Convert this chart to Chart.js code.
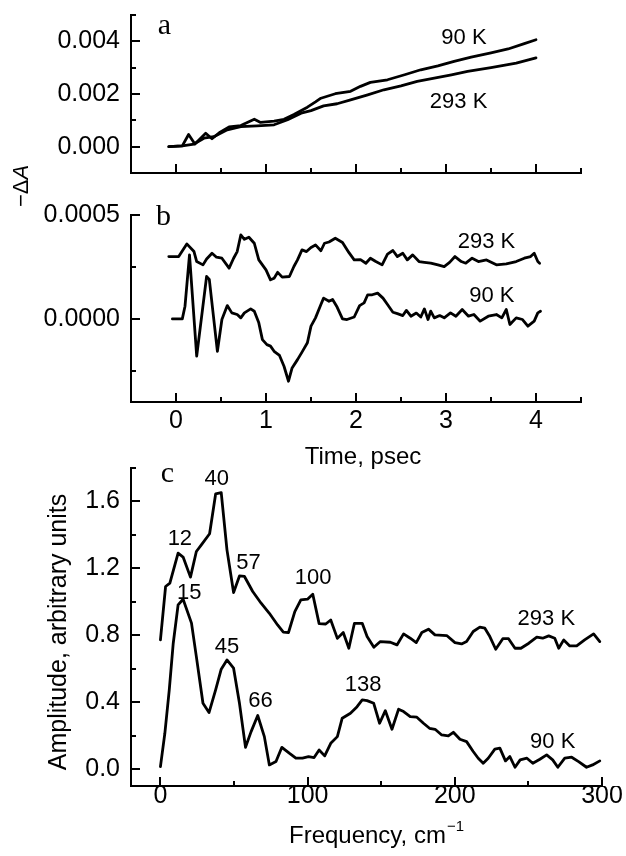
<!DOCTYPE html>
<html><head><meta charset="utf-8">
<script src="https://cdn.jsdelivr.net/npm/chart.js@4.4.0/dist/chart.umd.min.js"></script>
<style>
html,body{margin:0;padding:0;background:#fff;}
#wrap{position:relative;width:626px;height:856px;overflow:hidden;background:#fff;}
#wrap canvas{position:absolute;left:0;top:0;}
</style></head><body>
<div id="wrap">
<canvas id="ca" width="626" height="856"></canvas>
<canvas id="cb" width="626" height="856"></canvas>
<canvas id="cc" width="626" height="856"></canvas>
</div>
<script>
// ---------- Panel a: -dA vs time (psec) ----------
const timeA90 = [-0.08, 0.07, 0.14, 0.21, 0.33, 0.40, 0.49, 0.59, 0.72, 0.87, 0.94, 1.09, 1.20, 1.31, 1.46, 1.55, 1.61, 1.77, 1.94, 2.05, 2.16, 2.35, 2.54, 2.72, 2.91, 3.09, 3.28, 3.50, 3.69, 3.87, 4.00];
const dA90 = [0, 0.03e-3, 0.46e-3, 0.10e-3, 0.51e-3, 0.30e-3, 0.55e-3, 0.75e-3, 0.80e-3, 1.04e-3, 0.92e-3, 0.97e-3, 1.04e-3, 1.22e-3, 1.50e-3, 1.70e-3, 1.84e-3, 2.01e-3, 2.10e-3, 2.29e-3, 2.44e-3, 2.54e-3, 2.73e-3, 2.92e-3, 3.07e-3, 3.24e-3, 3.40e-3, 3.56e-3, 3.71e-3, 3.91e-3, 4.06e-3];
const timeA293 = [-0.08, 0.07, 0.20, 0.31, 0.42, 0.57, 0.72, 0.90, 1.09, 1.24, 1.39, 1.50, 1.64, 1.79, 1.94, 2.13, 2.31, 2.50, 2.68, 2.87, 3.06, 3.24, 3.50, 3.78, 4.00];
const dA293 = [0, 0.03e-3, 0.10e-3, 0.32e-3, 0.38e-3, 0.64e-3, 0.76e-3, 0.79e-3, 0.83e-3, 1.02e-3, 1.27e-3, 1.37e-3, 1.55e-3, 1.63e-3, 1.78e-3, 1.97e-3, 2.16e-3, 2.31e-3, 2.48e-3, 2.60e-3, 2.73e-3, 2.86e-3, 3.00e-3, 3.17e-3, 3.37e-3];

// ---------- Panel b: oscillatory part ----------
const timeB293 = [-0.08, 0.03, 0.12, 0.20, 0.23, 0.30, 0.34, 0.40, 0.45, 0.51, 0.59, 0.64, 0.68, 0.72, 0.76, 0.81, 0.87, 0.92, 1.00, 1.05, 1.09, 1.13, 1.18, 1.26, 1.31, 1.35, 1.40, 1.45, 1.50, 1.55, 1.61, 1.65, 1.70, 1.77, 1.85, 1.92, 1.98, 2.05, 2.11, 2.16, 2.22, 2.29, 2.35, 2.41, 2.46, 2.52, 2.57, 2.63, 2.70, 2.76, 2.83, 2.91, 2.98, 3.04, 3.10, 3.17, 3.22, 3.29, 3.36, 3.45, 3.56, 3.67, 3.78, 3.87, 3.94, 3.98, 4.02, 4.04];
const dB293 = [3.00e-4, 3.00e-4, 3.61e-4, 3.24e-4, 2.76e-4, 2.60e-4, 2.88e-4, 3.16e-4, 2.97e-4, 2.92e-4, 2.44e-4, 2.92e-4, 3.24e-4, 4.04e-4, 3.83e-4, 3.93e-4, 3.64e-4, 2.84e-4, 2.36e-4, 1.88e-4, 1.96e-4, 2.24e-4, 2.01e-4, 2.04e-4, 2.52e-4, 2.84e-4, 3.32e-4, 3.24e-4, 3.44e-4, 3.56e-4, 3.28e-4, 3.64e-4, 3.70e-4, 3.88e-4, 3.68e-4, 3.20e-4, 2.84e-4, 2.85e-4, 2.68e-4, 2.92e-4, 2.76e-4, 2.60e-4, 3.12e-4, 3.29e-4, 3.00e-4, 3.16e-4, 2.84e-4, 3.08e-4, 2.76e-4, 2.72e-4, 2.68e-4, 2.60e-4, 2.52e-4, 2.72e-4, 3.00e-4, 2.76e-4, 2.68e-4, 2.92e-4, 2.76e-4, 2.84e-4, 2.60e-4, 2.65e-4, 2.76e-4, 2.92e-4, 3.00e-4, 3.16e-4, 2.76e-4, 2.68e-4];
const timeB90 = [-0.04, 0.07, 0.10, 0.15, 0.23, 0.34, 0.37, 0.46, 0.51, 0.57, 0.62, 0.68, 0.72, 0.76, 0.83, 0.87, 0.92, 0.96, 1.01, 1.05, 1.09, 1.15, 1.20, 1.25, 1.29, 1.35, 1.40, 1.46, 1.50, 1.55, 1.61, 1.64, 1.70, 1.74, 1.79, 1.85, 1.90, 1.98, 2.04, 2.09, 2.13, 2.18, 2.24, 2.30, 2.35, 2.41, 2.46, 2.52, 2.56, 2.61, 2.67, 2.72, 2.76, 2.80, 2.83, 2.87, 2.93, 2.98, 3.05, 3.11, 3.18, 3.25, 3.31, 3.38, 3.47, 3.56, 3.62, 3.67, 3.71, 3.78, 3.85, 3.91, 3.98, 4.02, 4.05];
const dB90 = [0, 0, 0.61e-4, 3.08e-4, -1.79e-4, 2.04e-4, 1.90e-4, -1.56e-4, -0.03e-4, 0.64e-4, 0.29e-4, 0.21e-4, 0.05e-4, 0.29e-4, 0.48e-4, 0.37e-4, -0.19e-4, -1.00e-4, -1.24e-4, -1.31e-4, -1.56e-4, -1.76e-4, -2.28e-4, -3.00e-4, -2.36e-4, -1.96e-4, -1.60e-4, -1.15e-4, -0.35e-4, 0.05e-4, 0.69e-4, 1.00e-4, 0.85e-4, 0.93e-4, 0.57e-4, 0.00, -0.03e-4, 0.09e-4, 0.64e-4, 0.77e-4, 1.16e-4, 1.16e-4, 1.24e-4, 1.00e-4, 0.69e-4, 0.32e-4, 0.25e-4, 0.16e-4, 0.41e-4, 0.13e-4, 0.28e-4, 0.09e-4, 0.48e-4, -0.03e-4, 0.37e-4, 0.05e-4, 0.16e-4, 0.05e-4, 0.29e-4, 0.13e-4, 0.45e-4, 0.13e-4, 0.21e-4, -0.11e-4, 0.13e-4, 0.21e-4, 0.05e-4, 0.45e-4, -0.27e-4, 0.05e-4, -0.03e-4, -0.35e-4, -0.11e-4, 0.29e-4, 0.37e-4];

// ---------- Panel c: Fourier amplitude vs frequency (cm-1) ----------
const freqC293 = [0, 3.5, 6.4, 12, 15.4, 20.4, 24.4, 27.8, 33.4, 37.5, 41.3, 45.2, 49.7, 53.7, 57.1, 62.7, 68.4, 74, 79.6, 83.5, 87, 91.3, 95.4, 99.9, 103.5, 107.8, 112.3, 115.7, 120.2, 124.2, 128.0, 131.8, 137.1, 140.4, 145.0, 149.4, 156.2, 160.7, 165.2, 169.7, 173.8, 177.6, 182.1, 186.5, 194.5, 200.1, 204.6, 208.0, 212.5, 217.0, 220.4, 223.8, 227.8, 232.6, 236.5, 240.9, 244.9, 250.3, 255.7, 259.7, 263.8, 267.9, 270.6, 274.0, 278.1, 282.8, 288.2, 294.3, 298.5];
const ampC293 = [0.773, 1.092, 1.112, 1.291, 1.268, 1.148, 1.301, 1.341, 1.407, 1.645, 1.653, 1.311, 1.056, 1.155, 1.152, 1.062, 0.992, 0.932, 0.862, 0.819, 0.817, 0.942, 1.012, 1.016, 1.046, 0.870, 0.868, 0.892, 0.782, 0.817, 0.723, 0.872, 0.872, 0.793, 0.729, 0.763, 0.759, 0.743, 0.809, 0.783, 0.757, 0.817, 0.837, 0.803, 0.799, 0.757, 0.749, 0.763, 0.823, 0.849, 0.843, 0.793, 0.717, 0.780, 0.780, 0.723, 0.723, 0.753, 0.789, 0.783, 0.797, 0.783, 0.723, 0.773, 0.737, 0.737, 0.773, 0.809, 0.763];
const freqC90 = [0, 3, 6, 8.7, 12.0, 15.4, 21.1, 24.4, 28.9, 33.0, 37.5, 41.3, 45.2, 49.7, 53.7, 57.8, 61.6, 66.1, 70.6, 74.0, 78.5, 82.5, 87.5, 92.0, 96.5, 100.6, 104.4, 107.8, 111.6, 115.7, 120.2, 123.5, 129.1, 133.6, 137.1, 140.4, 144.9, 148.9, 152.8, 157.3, 161.8, 165.2, 169.7, 174.2, 178.7, 182.8, 186.6, 191.1, 195.6, 199.0, 203.5, 208.0, 212.5, 215.9, 219.3, 222.7, 227.2, 230.6, 234.4, 237.4, 240.9, 244.4, 249.0, 253.0, 257.8, 262.4, 266.5, 270.0, 274.7, 279.4, 284.1, 289.5, 293.6, 298.5];
const ampC90 = [0.016, 0.215, 0.474, 0.753, 0.982, 1.016, 0.873, 0.673, 0.394, 0.339, 0.474, 0.598, 0.653, 0.604, 0.394, 0.131, 0.225, 0.321, 0.195, 0.026, 0.046, 0.131, 0.096, 0.066, 0.066, 0.076, 0.070, 0.115, 0.080, 0.155, 0.195, 0.305, 0.335, 0.374, 0.414, 0.410, 0.394, 0.275, 0.350, 0.239, 0.359, 0.345, 0.315, 0.311, 0.275, 0.245, 0.239, 0.205, 0.199, 0.221, 0.179, 0.165, 0.106, 0.066, 0.036, 0.066, 0.120, 0.126, 0.050, 0.076, 0.012, 0.056, 0.066, 0.036, 0.060, 0.086, 0.056, 0.012, 0.066, 0.072, 0.046, 0.012, 0.026, 0.050];

// ---------- Tick values ----------
const timeTicks = [0, 1, 2, 3, 4];
const timeMinor = [0.5, 1.5, 2.5, 3.5, 4.5];
const aTicks = [0, 0.002, 0.004];
const aMinor = [0.001, 0.003, 0.005];
const bTicks = [0, 0.0005];
const bMinor = [-0.00025, 0.00025];
const freqTicks = [0, 100, 200, 300];
const freqMinor = [50, 150, 250];
const cTicks = [0, 0.4, 0.8, 1.2, 1.6];
const cMinor = [0.2, 0.6, 1.0, 1.4, 1.8];

// ---------- Annotations (data coordinates) ----------
const notesA = [['90 K', 3.20, 4.13e-3], ['293 K', 3.14, 1.68e-3]];
const notesB = [['293 K', 3.45, 3.72e-4], ['90 K', 3.51, 1.12e-4]];
const notesC = [['40', 38.2, 1.733], ['12', 13.2, 1.375], ['57', 59.8, 1.235], ['100', 103.7, 1.143], ['15', 19.5, 1.056], ['45', 45.2, 0.733], ['66', 67.9, 0.408], ['138', 137.7, 0.504], ['293 K', 262.2, 0.898], ['90 K', 266.5, 0.161]];
const letterA = ['a', -0.13, 4.26e-3];
const letterB = ['b', -0.14, 4.52e-4];
const letterC = ['c', 4.8, 1.719];

const SANS = "'Liberation Sans', Arial, Helvetica, sans-serif";
const SERIF = "'Liberation Serif', 'Times New Roman', serif";
const W = 626, H = 856;

function pts(xs, ys) { return xs.map((x, i) => ({x: x, y: ys[i]})); }

function ds(data) {
  return {data: data, borderColor: '#000', borderWidth: 2.8, pointRadius: 0, pointHoverRadius: 0,
          fill: false, tension: 0, borderJoinStyle: 'round', borderCapStyle: 'round'};
}

function axis(isX, min, max, labels, fmt, show, pad, size) {
  return {
    type: 'linear', min: min, max: max, position: isX ? 'bottom' : 'left',
    afterFit: s => {
      if (isX) s.height = size; else s.width = size;
      s.paddingTop = 0; s.paddingBottom = 0; s.paddingLeft = 0; s.paddingRight = 0;
    },
    afterBuildTicks: s => { s.ticks = labels.map(v => ({value: v})); },
    grid: {display: false, drawTicks: false},
    border: {display: true, color: '#000', width: 2},
    ticks: {display: show, color: '#000', padding: pad, autoSkip: false, maxRotation: 0, minRotation: 0,
            font: {family: SANS, size: 25, lineHeight: 1}, callback: v => fmt(v)}
  };
}

function decorPlugin(cfg) {
  return {
    id: 'decor',
    afterDraw(chart) {
      const ctx = chart.ctx, xs = chart.scales.x, ys = chart.scales.y, area = chart.chartArea;
      ctx.save();
      ctx.strokeStyle = '#000'; ctx.lineWidth = 2; ctx.lineCap = 'butt';
      const tx = (vals, len) => vals.forEach(v => {
        const p = Math.round(xs.getPixelForValue(v));
        ctx.beginPath(); ctx.moveTo(p, area.bottom); ctx.lineTo(p, area.bottom - len); ctx.stroke();
      });
      const ty = (vals, len) => vals.forEach(v => {
        const p = Math.round(ys.getPixelForValue(v));
        ctx.beginPath(); ctx.moveTo(area.left, p); ctx.lineTo(area.left + len, p); ctx.stroke();
      });
      tx(cfg.xMajor, 9); tx(cfg.xMinor, 5); ty(cfg.yMajor, 9); ty(cfg.yMinor, 5);
      ctx.fillStyle = '#000';
      ctx.textAlign = 'center'; ctx.textBaseline = 'middle';
      ctx.font = '22px ' + SANS;
      cfg.notes.forEach(n => ctx.fillText(n[0], xs.getPixelForValue(n[1]), ys.getPixelForValue(n[2])));
      ctx.font = '30px ' + SERIF; ctx.textBaseline = 'alphabetic';
      const L = cfg.letter;
      ctx.fillText(L[0], xs.getPixelForValue(L[1]), ys.getPixelForValue(L[2]));
      if (cfg.extra) cfg.extra(ctx, area);
      ctx.restore();
    }
  };
}

function makeChart(id, datasets, xAxis, yAxis, pad, decor) {
  return new Chart(document.getElementById(id), {
    type: 'line',
    data: {datasets: datasets},
    options: {
      responsive: false, animation: false, devicePixelRatio: 1,
      layout: {autoPadding: false, padding: pad},
      plugins: {legend: {display: false}, tooltip: {enabled: false}},
      events: [],
      scales: {x: xAxis, y: yAxis}
    },
    plugins: [decorPlugin(decor)]
  });
}

// Panel a
makeChart('ca',
  [ds(pts(timeA90, dA90)), ds(pts(timeA293, dA293))],
  axis(true, -0.5, 4.5, timeTicks, v => String(v), false, 0, 10),
  axis(false, -0.001, 0.005, aTicks, v => (+v).toFixed(3), true, 11, 131),
  {left: 0, top: 15, right: W - 581, bottom: H - 173 - 10},
  {xMajor: timeTicks, xMinor: timeMinor, yMajor: aTicks, yMinor: aMinor, notes: notesA, letter: letterA,
   extra: (ctx) => {
     ctx.save();
     ctx.translate(22, 186); ctx.rotate(-Math.PI / 2);
     ctx.textBaseline = 'middle'; ctx.textAlign = 'left';
     ctx.font = '22px ' + SANS; const w1 = ctx.measureText('\u2212\u0394').width;
     ctx.font = 'italic 22px ' + SANS; const w2 = ctx.measureText('A').width;
     const x0 = -(w1 + w2) / 2;
     ctx.font = '22px ' + SANS; ctx.fillText('\u2212\u0394', x0, 0);
     ctx.font = 'italic 22px ' + SANS; ctx.fillText('A', x0 + w1, 0);
     ctx.restore();
   }});

// Panel b
makeChart('cb',
  [ds(pts(timeB293, dB293)), ds(pts(timeB90, dB90))],
  axis(true, -0.5, 4.5, timeTicks, v => String(v), true, 7, 40),
  axis(false, -0.0004, 0.0005, bTicks, v => (+v).toFixed(4), true, 11, 131),
  {left: 0, top: 215, right: W - 581, bottom: H - 402 - 40},
  {xMajor: timeTicks, xMinor: timeMinor, yMajor: bTicks, yMinor: bMinor, notes: notesB, letter: letterB,
   extra: (ctx, area) => {
     ctx.font = '24px ' + SANS; ctx.textAlign = 'center'; ctx.textBaseline = 'middle';
     ctx.fillText('Time, psec', 363, 457);
   }});

// Panel c
makeChart('cc',
  [ds(pts(freqC293, ampC293)), ds(pts(freqC90, ampC90))],
  axis(true, -20, 300, freqTicks, v => String(v), true, -2, 40),
  axis(false, -0.1, 1.8, cTicks, v => (+v).toFixed(1), true, 11, 131),
  {left: 0, top: 468, right: W - 602, bottom: H - 786 - 40},
  {xMajor: freqTicks, xMinor: freqMinor, yMajor: cTicks, yMinor: cMinor, notes: notesC, letter: letterC,
   extra: (ctx) => {
     ctx.textBaseline = 'middle'; ctx.textAlign = 'left';
     ctx.font = '24px ' + SANS; const m = 'Frequency, cm'; const w1 = ctx.measureText(m).width;
     ctx.font = '15px ' + SANS; const s = '\u22121'; const w2 = ctx.measureText(s).width;
     const x0 = 376 - (w1 + w2) / 2;
     ctx.font = '24px ' + SANS; ctx.fillText(m, x0, 836);
     ctx.font = '15px ' + SANS; ctx.fillText(s, x0 + w1 + 1, 827);
     ctx.save();
     ctx.translate(59, 632); ctx.rotate(-Math.PI / 2);
     ctx.textAlign = 'center'; ctx.font = '25px ' + SANS;
     ctx.fillText('Amplitude, arbitrary units', 0, 0);
     ctx.restore();
   }});
</script>
</body></html>
